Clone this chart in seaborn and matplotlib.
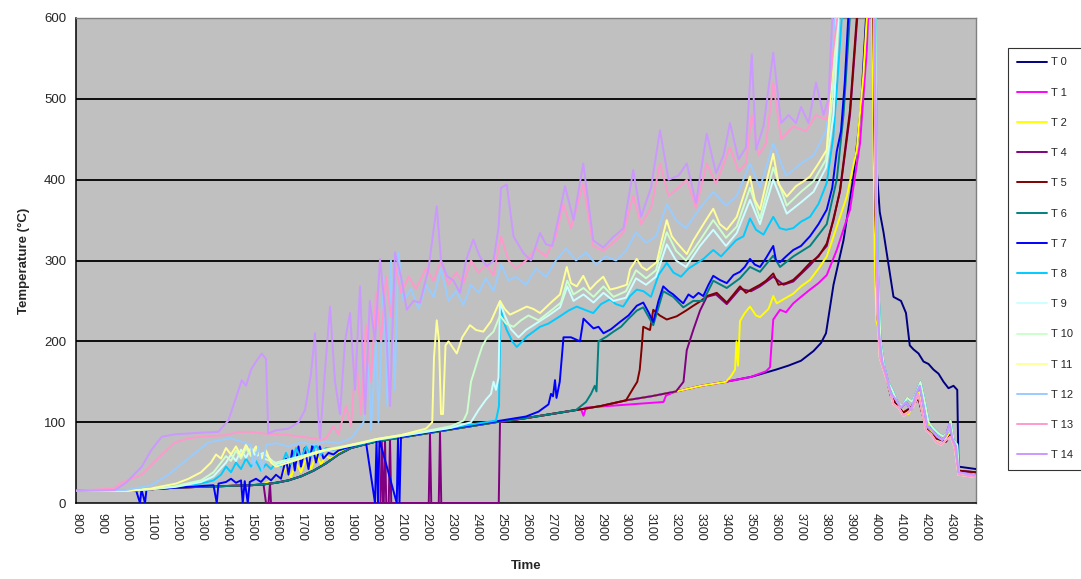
import pandas as pd
import matplotlib.pyplot as plt
import seaborn as sns
from matplotlib.lines import Line2D

# --- Data (time vs temperature) ---
SENSORS = ["T 0", "T 1", "T 2", "T 4", "T 5", "T 6", "T 7", "T 8",
           "T 9", "T 10", "T 11", "T 12", "T 13", "T 14"]
COLORS = ["#000080", "#FF00FF", "#FFFF00", "#800080", "#800000", "#008080", "#0000FF",
          "#00CCFF", "#CCFFFF", "#CCFFCC", "#FFFF99", "#99CCFF", "#FF99CC", "#CC99FF"]

# slow common curve followed by the sensors before they jump
BASE = [(800, 15), (900, 15), (1000, 15), (1050, 16), (1100, 17), (1200, 19), (1300, 20),
        (1400, 21), (1500, 22), (1550, 23), (1600, 25), (1650, 28), (1700, 33), (1750, 40),
        (1800, 49), (1850, 60), (1900, 68), (1950, 72), (2000, 76), (2100, 81), (2200, 86),
        (2300, 91), (2400, 96), (2500, 101), (2600, 105), (2700, 110), (2800, 115), (2900, 120),
        (3000, 127), (3100, 132), (3200, 138), (3300, 145), (3400, 150), (3500, 156),
        (3600, 165), (3650, 170), (3700, 176), (3750, 188), (3780, 198), (3800, 210)]

# cooling after the peak
COOL_A = [(3995, 600), (4003, 330), (4012, 210), (4025, 175), (4040, 160), (4060, 135),
          (4080, 128), (4100, 118), (4120, 125), (4140, 115), (4160, 135), (4175, 145),
          (4190, 120), (4205, 95), (4225, 90), (4245, 82), (4265, 78), (4280, 84), (4295, 98),
          (4305, 80), (4320, 70), (4330, 38), (4400, 34)]
COOL_B = [(3992, 600), (3998, 400), (4005, 240), (4015, 180), (4030, 165), (4050, 145),
          (4070, 122), (4090, 118), (4110, 108), (4130, 112), (4150, 120), (4170, 135),
          (4185, 112), (4200, 90), (4220, 85), (4240, 76), (4260, 72), (4280, 78), (4300, 82),
          (4315, 68), (4330, 35), (4400, 32)]
COOL_C = [(3998, 600), (4006, 300), (4018, 200), (4032, 170), (4048, 150), (4065, 140),
          (4085, 125), (4105, 120), (4125, 130), (4145, 125), (4165, 140), (4178, 150),
          (4195, 125), (4210, 100), (4230, 92), (4250, 86), (4270, 82), (4290, 90), (4298, 102),
          (4310, 78), (4325, 72), (4332, 36), (4400, 33)]
COOL_T0 = [(3988, 600), (4000, 425), (4015, 360), (4030, 335), (4055, 285), (4070, 255),
           (4100, 250), (4120, 235), (4135, 195), (4150, 190), (4170, 185), (4190, 175),
           (4210, 172), (4230, 165), (4250, 160), (4270, 150), (4290, 142), (4310, 145),
           (4325, 140), (4330, 45), (4400, 42)]
COOL_T2 = [(3985, 600), (3995, 300), (4002, 225), (4010, 215), (4030, 170), (4040, 160),
           (4060, 138), (4080, 126), (4100, 116), (4130, 110), (4160, 128), (4175, 138),
           (4195, 110), (4215, 92), (4240, 80), (4270, 76), (4295, 86), (4315, 70), (4330, 36),
           (4400, 33)]
COOL_T5 = [(3990, 600), (3997, 380), (4006, 230), (4020, 185), (4036, 162), (4060, 132),
           (4085, 120), (4110, 112), (4140, 118), (4170, 130), (4200, 92), (4240, 80),
           (4280, 76), (4300, 85), (4320, 70), (4330, 40), (4400, 38)]

T0_OWN = [(3830, 270), (3870, 325), (3910, 404), (3940, 490), (3960, 600), (3975, 700)]
T1_OWN = [(2820, 116), (2830, 108), (2840, 118), (3150, 125), (3160, 133), (3200, 138),
          (3300, 145), (3400, 150), (3500, 156), (3560, 163), (3576, 168), (3583, 200),
          (3589, 227), (3616, 239), (3640, 236), (3669, 247), (3700, 255), (3736, 264),
          (3770, 272), (3803, 282), (3843, 313), (3896, 363), (3936, 445), (3963, 560),
          (3975, 650), (3982, 700)]
T2_OWN = [(1580, 28), (1600, 35), (1620, 30), (1640, 45), (1660, 32), (1680, 50), (1700, 38),
          (1720, 55), (1740, 42), (1760, 60), (1780, 48), (1800, 58), (1820, 55), (1850, 62),
          (1900, 70), (1950, 74)]
T2_JUMP = [(3420, 157), (3436, 165), (3442, 200), (3448, 170), (3456, 225), (3475, 235),
           (3496, 243), (3520, 232), (3536, 230), (3570, 240), (3589, 256), (3603, 247),
           (3630, 252), (3669, 259), (3700, 268), (3736, 276), (3770, 290), (3803, 305),
           (3843, 342), (3883, 379), (3923, 437), (3949, 528), (3963, 600), (3970, 650),
           (3978, 700)]
T4_DROP = [(1560, 0), (1570, 0), (1576, 24), (1580, 0), (2018, 0), (2023, 78), (2028, 0),
           (2031, 0), (2036, 79), (2041, 0), (2051, 0), (2056, 80), (2061, 0), (2211, 0),
           (2216, 87), (2221, 0), (2251, 0), (2256, 89), (2261, 0), (2491, 0), (2496, 100)]
T4_JUMP = [(3230, 150), (3243, 189), (3269, 214), (3296, 238), (3323, 255), (3360, 258),
           (3403, 246), (3456, 265), (3500, 262), (3536, 268), (3589, 280), (3630, 270),
           (3669, 274), (3736, 294), (3803, 318), (3856, 385), (3896, 480), (3925, 600),
           (3940, 650), (3975, 700)]
T5_JUMP = [(3029, 142), (3045, 150), (3055, 165), (3063, 193), (3069, 218), (3096, 214),
           (3109, 239), (3135, 232), (3163, 227), (3203, 231), (3240, 238), (3269, 244),
           (3300, 250), (3323, 256), (3363, 260), (3403, 248), (3430, 258), (3456, 268),
           (3480, 260), (3500, 264), (3536, 270), (3560, 275), (3589, 284), (3610, 270),
           (3640, 272), (3669, 276), (3700, 285), (3736, 297), (3770, 305), (3803, 321),
           (3830, 350), (3856, 387), (3896, 486), (3923, 600), (3940, 650), (3975, 700)]
T6_JUMP = [(2840, 125), (2860, 135), (2875, 145), (2882, 138), (2890, 200), (2923, 206),
           (2950, 212), (2980, 218), (3010, 228), (3043, 238), (3069, 242), (3109, 220),
           (3149, 262), (3189, 255), (3229, 242), (3269, 250), (3309, 250), (3349, 275),
           (3403, 266), (3456, 278), (3496, 292), (3536, 286), (3589, 306), (3616, 292),
           (3669, 305), (3736, 318), (3803, 345), (3843, 400), (3870, 480), (3895, 600),
           (3910, 650), (3975, 700)]
T7 = [(800, 15), (1000, 15), (1040, 16), (1056, 0), (1062, 17), (1076, 0), (1082, 17),
      (1150, 18), (1250, 20), (1350, 22), (1363, 0), (1370, 24), (1400, 26), (1420, 30),
      (1440, 25), (1460, 28), (1467, 0), (1475, 27), (1487, 0), (1495, 26), (1520, 30),
      (1540, 26), (1560, 33), (1580, 28), (1600, 35), (1620, 30), (1640, 55), (1650, 35),
      (1665, 65), (1675, 40), (1690, 70), (1700, 45), (1715, 68), (1730, 42), (1745, 72),
      (1760, 50), (1775, 70), (1790, 55), (1810, 62), (1830, 60), (1850, 65), (1880, 68),
      (1920, 72), (1960, 75), (1996, 0), (2002, 77), (2008, 0), (2014, 78), (2083, 0),
      (2088, 81), (2094, 0), (2100, 82), (2200, 87), (2300, 92), (2400, 97), (2500, 102),
      (2600, 107), (2650, 113), (2690, 122), (2700, 135), (2708, 132), (2716, 152),
      (2722, 130), (2735, 150), (2750, 205), (2780, 205), (2816, 200), (2830, 228),
      (2850, 222), (2870, 216), (2890, 218), (2910, 210), (2940, 215), (2976, 224),
      (3010, 232), (3043, 244), (3069, 248), (3090, 236), (3109, 224), (3130, 250),
      (3149, 268), (3170, 262), (3189, 258), (3210, 252), (3229, 247), (3250, 258),
      (3269, 254), (3290, 260), (3309, 256), (3330, 270), (3349, 281), (3375, 276),
      (3403, 272), (3430, 282), (3456, 286), (3475, 292), (3496, 302), (3515, 295),
      (3536, 292), (3560, 303), (3589, 318), (3600, 300), (3616, 298), (3640, 305),
      (3669, 313), (3700, 318), (3736, 330), (3770, 345), (3803, 363), (3825, 390),
      (3843, 435), (3860, 460), (3875, 520), (3889, 600), (3900, 650), (3975, 700)]
T8 = [(800, 15), (1000, 15), (1100, 18), (1200, 21), (1300, 24), (1350, 28), (1380, 35),
      (1400, 45), (1420, 38), (1440, 50), (1460, 42), (1480, 55), (1500, 45), (1520, 52),
      (1540, 40), (1560, 48), (1580, 42), (1600, 50), (1620, 45), (1640, 62), (1660, 48),
      (1680, 68), (1700, 55), (1720, 70), (1740, 58), (1760, 72), (1780, 60), (1800, 68),
      (1830, 66), (1860, 68), (1900, 71), (1950, 74), (2000, 78), (2100, 83), (2200, 88),
      (2300, 93), (2400, 98), (2480, 102), (2492, 120), (2498, 243), (2510, 225), (2523, 214),
      (2545, 200), (2563, 193), (2585, 200), (2603, 206), (2630, 212), (2656, 218),
      (2690, 222), (2736, 231), (2770, 238), (2803, 243), (2835, 239), (2869, 235),
      (2900, 246), (2936, 252), (2960, 246), (2989, 243), (3016, 256), (3043, 264),
      (3070, 262), (3100, 255), (3130, 282), (3163, 297), (3190, 285), (3220, 280),
      (3250, 290), (3280, 296), (3310, 302), (3349, 313), (3380, 305), (3410, 315),
      (3440, 325), (3470, 330), (3496, 352), (3520, 338), (3550, 332), (3589, 354),
      (3615, 340), (3640, 338), (3669, 340), (3700, 348), (3736, 354), (3770, 370),
      (3803, 396), (3829, 453), (3845, 520), (3863, 600), (3880, 650), (3975, 700)]
T9 = [(800, 15), (1000, 15), (1100, 17), (1200, 20), (1300, 26), (1350, 33), (1400, 50),
      (1420, 60), (1440, 52), (1460, 66), (1480, 56), (1500, 68), (1520, 58), (1550, 62),
      (1600, 48), (1700, 56), (1800, 65), (1900, 71), (2000, 78), (2100, 83), (2200, 88),
      (2300, 93), (2380, 100), (2410, 115), (2440, 128), (2460, 135), (2470, 150),
      (2480, 140), (2490, 155), (2496, 248), (2515, 232), (2540, 215), (2570, 205),
      (2600, 214), (2640, 222), (2690, 232), (2736, 242), (2765, 268), (2790, 250),
      (2830, 258), (2870, 248), (2910, 260), (2950, 250), (3000, 254), (3040, 278),
      (3080, 270), (3120, 280), (3163, 320), (3200, 300), (3240, 292), (3296, 318),
      (3349, 338), (3400, 318), (3443, 334), (3496, 375), (3536, 345), (3589, 400),
      (3643, 358), (3700, 372), (3750, 385), (3800, 415), (3830, 480), (3850, 600),
      (3865, 650), (3975, 700)]
T10 = [(800, 15), (1000, 15), (1100, 17), (1200, 21), (1300, 28), (1350, 38), (1400, 58),
       (1420, 52), (1440, 65), (1460, 55), (1480, 68), (1500, 58), (1520, 66), (1550, 55),
       (1600, 50), (1700, 58), (1800, 66), (1900, 72), (2000, 79), (2100, 84), (2200, 89),
       (2300, 95), (2350, 102), (2365, 112), (2380, 150), (2395, 165), (2410, 180),
       (2425, 194), (2443, 204), (2470, 212), (2496, 232), (2520, 222), (2550, 218),
       (2580, 226), (2610, 232), (2650, 226), (2700, 238), (2740, 248), (2765, 275),
       (2790, 258), (2830, 266), (2870, 255), (2910, 268), (2950, 255), (3000, 262),
       (3040, 288), (3080, 278), (3120, 288), (3163, 335), (3200, 312), (3240, 300),
       (3296, 325), (3349, 350), (3400, 328), (3443, 342), (3496, 390), (3536, 352),
       (3589, 415), (3643, 368), (3700, 385), (3750, 398), (3800, 425), (3825, 500),
       (3845, 600), (3860, 650), (3975, 700)]
T11 = [(800, 15), (1000, 15), (1100, 18), (1200, 24), (1250, 30), (1300, 38), (1340, 50),
       (1360, 60), (1380, 55), (1400, 68), (1420, 60), (1440, 70), (1460, 58), (1480, 72),
       (1500, 60), (1520, 70), (1540, 55), (1560, 65), (1580, 50), (1600, 45), (1650, 50),
       (1700, 55), (1750, 62), (1800, 66), (1850, 68), (1900, 72), (1950, 75), (2000, 79),
       (2100, 84), (2200, 92), (2225, 100), (2232, 180), (2243, 226), (2252, 200),
       (2260, 110), (2268, 110), (2278, 195), (2290, 200), (2323, 185), (2345, 205),
       (2376, 220), (2400, 214), (2429, 212), (2460, 225), (2496, 250), (2515, 240),
       (2536, 233), (2570, 238), (2603, 243), (2630, 240), (2656, 235), (2700, 248),
       (2736, 258), (2763, 292), (2780, 272), (2803, 268), (2829, 281), (2856, 264),
       (2880, 272), (2909, 280), (2936, 264), (2963, 266), (3003, 270), (3016, 289),
       (3043, 302), (3063, 292), (3083, 288), (3123, 298), (3143, 325), (3163, 350),
       (3183, 330), (3203, 322), (3243, 308), (3270, 325), (3296, 338), (3320, 350),
       (3349, 364), (3375, 345), (3403, 338), (3443, 354), (3470, 380), (3496, 404),
       (3515, 375), (3536, 363), (3560, 395), (3589, 432), (3610, 395), (3643, 379),
       (3680, 392), (3710, 398), (3736, 404), (3770, 420), (3803, 437), (3823, 528),
       (3840, 600), (3860, 650), (3975, 700)]
T12 = [(800, 15), (1000, 16), (1100, 22), (1169, 35), (1249, 55), (1329, 75), (1380, 78),
       (1420, 80), (1460, 76), (1500, 72), (1510, 45), (1530, 70), (1545, 40), (1560, 72),
       (1600, 74), (1650, 70), (1700, 75), (1750, 72), (1800, 76), (1850, 74), (1900, 80),
       (1950, 100), (1970, 180), (1980, 90), (2000, 200), (2010, 100), (2030, 280),
       (2045, 120), (2060, 300), (2075, 140), (2090, 310), (2110, 250), (2140, 265),
       (2170, 240), (2200, 270), (2230, 255), (2260, 290), (2290, 250), (2320, 262),
       (2350, 245), (2380, 270), (2410, 260), (2440, 278), (2470, 262), (2500, 295),
       (2530, 275), (2560, 280), (2600, 270), (2640, 290), (2680, 280), (2720, 300),
       (2760, 315), (2800, 300), (2840, 310), (2880, 295), (2920, 305), (2960, 300),
       (3000, 312), (3040, 335), (3080, 322), (3120, 330), (3163, 370), (3200, 350),
       (3240, 340), (3296, 365), (3349, 385), (3400, 368), (3443, 380), (3496, 420),
       (3536, 390), (3589, 445), (3640, 405), (3700, 420), (3750, 430), (3800, 460),
       (3820, 530), (3835, 600), (3850, 650), (3975, 700)]
T13 = [(800, 15), (950, 18), (983, 25), (1063, 35), (1143, 60), (1196, 75), (1250, 80),
       (1300, 82), (1400, 84), (1450, 88), (1500, 88), (1550, 86), (1600, 85), (1650, 84),
       (1700, 82), (1750, 80), (1780, 78), (1800, 80), (1830, 95), (1850, 85), (1880, 120),
       (1900, 95), (1920, 180), (1940, 110), (1960, 220), (1980, 150), (2000, 260),
       (2020, 200), (2040, 280), (2060, 230), (2080, 290), (2100, 260), (2130, 280),
       (2160, 265), (2200, 290), (2230, 275), (2260, 300), (2290, 270), (2320, 285),
       (2350, 272), (2380, 300), (2410, 285), (2440, 295), (2470, 282), (2500, 330),
       (2530, 300), (2560, 290), (2600, 300), (2640, 315), (2680, 305), (2720, 330),
       (2749, 370), (2780, 340), (2829, 395), (2869, 318), (2909, 312), (2949, 322),
       (2990, 335), (3029, 380), (3060, 345), (3100, 365), (3136, 420), (3170, 380),
       (3210, 390), (3243, 400), (3280, 365), (3323, 420), (3360, 395), (3416, 440),
       (3450, 410), (3480, 420), (3503, 480), (3530, 430), (3560, 445), (3589, 520),
       (3620, 450), (3669, 466), (3720, 460), (3760, 480), (3803, 474), (3829, 560),
       (3845, 600), (3860, 650), (3975, 700)]
T14 = [(800, 15), (956, 16), (1000, 25), (1063, 45), (1100, 65), (1143, 82), (1196, 85),
       (1250, 86), (1300, 87), (1369, 88), (1409, 102), (1440, 130), (1463, 152), (1480, 145),
       (1500, 165), (1520, 175), (1543, 185), (1560, 178), (1569, 86), (1600, 90), (1650, 92),
       (1690, 100), (1716, 115), (1740, 160), (1756, 210), (1766, 120), (1776, 80),
       (1800, 180), (1816, 243), (1836, 150), (1856, 110), (1876, 200), (1896, 235),
       (1916, 140), (1936, 268), (1956, 110), (1975, 250), (1996, 200), (2016, 302),
       (2036, 240), (2056, 120), (2076, 310), (2100, 280), (2123, 239), (2150, 250),
       (2176, 248), (2210, 290), (2243, 367), (2260, 300), (2283, 281), (2310, 275),
       (2336, 260), (2360, 300), (2389, 326), (2415, 305), (2443, 293), (2470, 300),
       (2490, 340), (2500, 390), (2523, 394), (2550, 330), (2590, 309), (2620, 300),
       (2656, 334), (2680, 320), (2705, 318), (2735, 360), (2756, 392), (2790, 350),
       (2829, 420), (2869, 325), (2909, 316), (2949, 329), (2990, 340), (3029, 412),
       (3060, 354), (3100, 390), (3136, 461), (3170, 400), (3210, 405), (3243, 420),
       (3280, 371), (3323, 457), (3360, 408), (3390, 430), (3416, 470), (3450, 425),
       (3480, 440), (3503, 555), (3520, 437), (3550, 466), (3589, 557), (3620, 470),
       (3650, 480), (3680, 470), (3700, 490), (3730, 470), (3760, 520), (3790, 480),
       (3810, 500), (3825, 600), (3840, 650), (3975, 700)]


def on_base(t0, t1):
    """Points of the common slow curve between t0 and t1."""
    return [p for p in BASE if t0 <= p[0] <= t1]


SERIES = {
    "T 0": on_base(800, 3800) + T0_OWN + COOL_T0,
    "T 1": on_base(800, 2800) + T1_OWN + COOL_A,
    "T 2": on_base(800, 1550) + T2_OWN + on_base(2000, 3400) + T2_JUMP + COOL_T2,
    "T 4": on_base(800, 1550) + T4_DROP + on_base(2600, 3200) + T4_JUMP + COOL_T5,
    "T 5": on_base(800, 3000) + T5_JUMP + COOL_T5,
    "T 6": on_base(800, 2800) + T6_JUMP + COOL_C,
    "T 7": T7 + COOL_A,
    "T 8": T8 + COOL_C,
    "T 9": T9 + COOL_B,
    "T 10": T10 + COOL_C,
    "T 11": T11 + COOL_B,
    "T 12": T12 + COOL_A,
    "T 13": T13 + COOL_B,
    "T 14": T14 + COOL_A,
}

rows = []
for name in SENSORS:
    for t, v in SERIES[name]:
        rows.append({"time": t, "temp": v, "sensor": name})
df = pd.DataFrame(rows)

# --- Plot ---
sns.set_theme(style="white")
plt.rcParams["font.family"] = ["Liberation Sans", "DejaVu Sans"]

fig = plt.figure(figsize=(10.81, 5.79), dpi=100)
ax = fig.add_axes([76 / 1081, 1 - 503 / 579, 900 / 1081, 485 / 579])
ax.set_facecolor("#C0C0C0")

sns.lineplot(data=df, x="time", y="temp", hue="sensor", hue_order=SENSORS,
             palette=COLORS, sort=False, estimator=None, linewidth=1.4,
             legend=False, ax=ax, zorder=3)

ax.set_xlim(800, 4400)
ax.set_ylim(0, 600)
ax.set_xticks(range(800, 4401, 100))
ax.set_yticks(range(0, 601, 100))
ax.tick_params(axis="x", labelrotation=-90, labelsize=9, direction="out",
               length=5, width=1, color="black", pad=2)
ax.tick_params(axis="y", labelsize=9.5, direction="out", length=5, width=1,
               color="black", pad=2)
for lab in ax.get_xticklabels():
    lab.set_va("top")
    lab.set_ha("center")

ax.set_axisbelow(True)
for yv in range(100, 600, 100):
    ax.axhline(yv, color="black", linewidth=1.3, zorder=0.5)

for side in ["left", "bottom"]:
    ax.spines[side].set_color("black")
    ax.spines[side].set_linewidth(1.1)
for side in ["top", "right"]:
    ax.spines[side].set_color("#808080")
    ax.spines[side].set_linewidth(1.0)

ax.set_xlabel("Time", fontsize=9.5, fontweight="bold", labelpad=14)
ax.set_ylabel("Temperature (°C)", fontsize=9.5, fontweight="bold", labelpad=10)

handles = [Line2D([0], [0], color=c, linewidth=1.4) for c in COLORS]
leg = fig.legend(handles, SENSORS, loc="upper left",
                 bbox_to_anchor=(1008 / 1081, 1 - 48 / 579), frameon=True,
                 fancybox=False, edgecolor="black", fontsize=8, labelspacing=1.82,
                 handlelength=2.7, handletextpad=0.3, borderpad=0.85, borderaxespad=0)
leg.get_frame().set_linewidth(0.8)
leg.get_frame().set_facecolor("white")

fig.savefig("out.png", dpi=100)
